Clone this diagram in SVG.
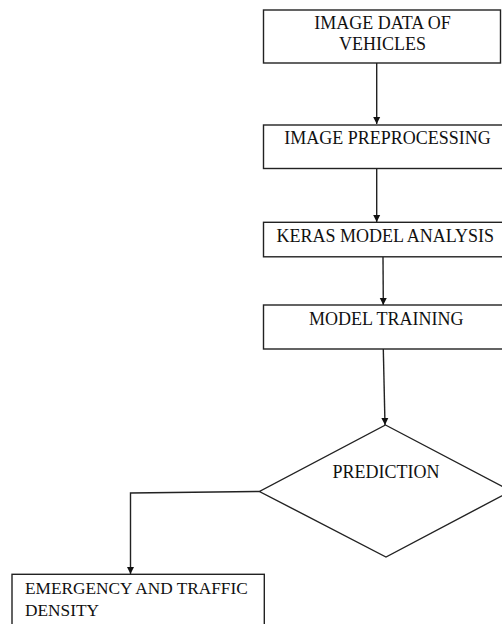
<svg xmlns="http://www.w3.org/2000/svg" width="502" height="624" viewBox="0 0 502 624">
  <defs>
    <marker id="arr" markerWidth="8" markerHeight="8" refX="7" refY="4" orient="auto" markerUnits="userSpaceOnUse">
      <path d="M0,0.5 L7,4 L0,7.5 Z" fill="#111"/>
    </marker>
    <style>
      .box { fill: #fff; stroke: #222; stroke-width: 1.4; }
      .lbl { font-family: "Liberation Serif", "Times New Roman", serif; font-size: 18px; fill: #111; }
      .sm { font-size: 17.3px; }
      .edge { fill: none; stroke: #222; stroke-width: 1.4; }
    </style>
  </defs>
  <rect width="502" height="624" fill="#fff"/>
  <g id="connectors">
    <path class="edge" d="M376.7,63 L376.7,124" marker-end="url(#arr)"/>
    <path class="edge" d="M376.7,168.5 L376.7,222" marker-end="url(#arr)"/>
    <path class="edge" d="M383,257 L383.3,305" marker-end="url(#arr)"/>
    <path class="edge" d="M383.3,349 L385,425" marker-end="url(#arr)"/>
    <path class="edge" d="M259.5,491.5 L130.5,493 L130.5,574" marker-end="url(#arr)"/>
  </g>
  <g id="n1">
    <rect class="box" x="263.5" y="10" width="237" height="53"/>
    <text class="lbl" x="382.5" y="29" text-anchor="middle">IMAGE DATA OF</text>
    <text class="lbl" x="382.5" y="50" text-anchor="middle">VEHICLES</text>
  </g>
  <g id="n2">
    <rect class="box" x="263.5" y="125" width="248" height="43.5"/>
    <text class="lbl" x="387.5" y="143.5" text-anchor="middle">IMAGE PREPROCESSING</text>
  </g>
  <g id="n3">
    <rect class="box" x="263.5" y="222.3" width="248" height="34.5"/>
    <text class="lbl" x="276.5" y="241.7">KERAS MODEL ANALYSIS</text>
  </g>
  <g id="n4">
    <rect class="box" x="263.5" y="305" width="248" height="44"/>
    <text class="lbl" x="386.3" y="325" text-anchor="middle">MODEL TRAINING</text>
  </g>
  <g id="n5">
    <polygon class="box" points="385.5,425 511,491 386,557 259.5,491.5"/>
    <text class="lbl" x="386" y="478.3" text-anchor="middle">PREDICTION</text>
  </g>
  <g id="n6">
    <rect class="box" x="12" y="574.3" width="252.3" height="60"/>
    <text class="lbl sm" x="25" y="594.3">EMERGENCY AND TRAFFIC</text>
    <text class="lbl sm" x="25" y="615.7">DENSITY</text>
  </g>
</svg>
